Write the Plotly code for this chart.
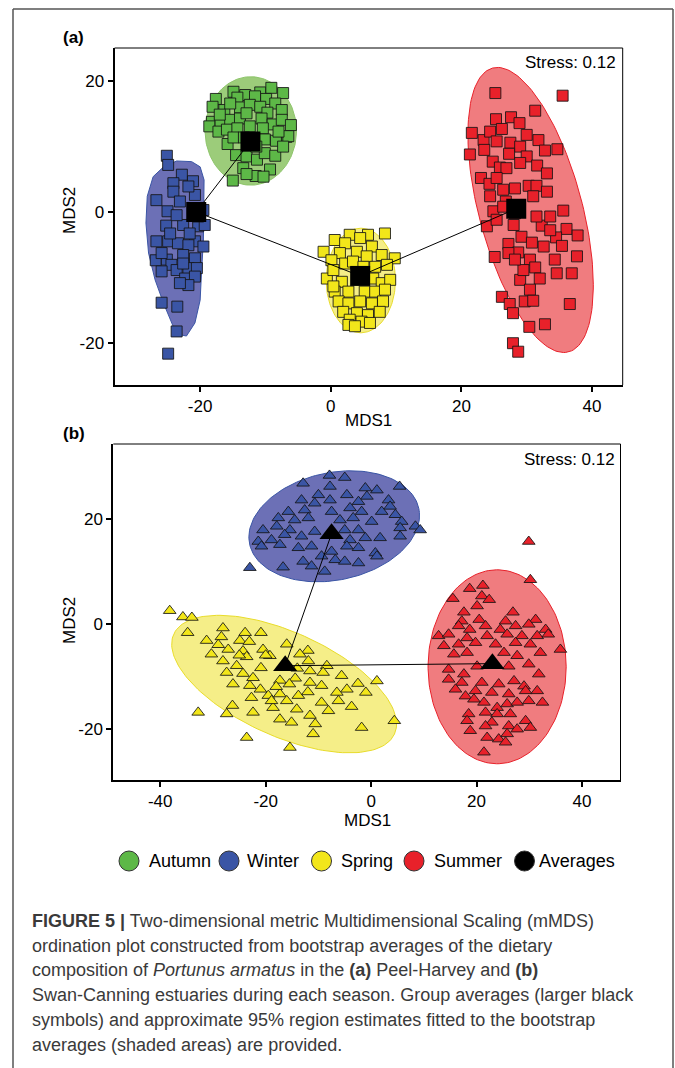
import numpy as np
import plotly.graph_objects as go

FONT = "Liberation Sans, Arial, sans-serif"

# ---------------- Panel (a): Peel-Harvey (squares) ----------------
a_autumn_x = [-14.9, -13.1, -10.8, -9.1, -7.3, -17.6, -14.3, -11.6, -9.9, -8.5, -16.3, -13.9, -12.4, -10.8,
              -9.7, -7.5, -15.4, -18.2, -16.9, -15.4, -13.9, -10.6, -8.9, -7.5, -6.1, -18.6, -17.2, -15.9,
              -14.3, -12.4, -10.4, -6.8, -15.8, -14.9, -13.3, -10.1, -8.4, -6.5, -14.5, -12.9, -11.3, -10.1,
              -8.5, -7.3, -13.4, -11.5, -9.3, -10.3, -15.0, -12.9, -18.1, -17.0, -8.0, -11.4, -12.9]
a_autumn_y = [18.4, 17.9, 18.3, 19.0, 18.2, 17.3, 17.5, 17.7, 17.3, 16.6, 15.6, 16.0, 16.4, 16.1,
              15.2, 15.6, 16.6, 13.8, 13.7, 14.1, 14.3, 14.3, 13.4, 14.1, 13.3, 13.1, 12.3, 12.6,
              12.8, 13.1, 12.8, 11.5, 10.4, 11.4, 11.4, 11.1, 10.9, 11.6, 8.7, 8.5, 8.0, 9.0,
              8.6, 10.0, 6.7, 5.5, 6.5, 5.4, 4.8, 5.8, 16.1, 14.9, 12.3, 10.0, 15.1]

a_winter_x = [-25.1, -24.9, -22.8, -24.1, -21.1, -20.8, -26.7, -24.1, -25.0, -23.1, -19.5, -25.2, -22.6,
              -20.3, -19.3, -26.7, -24.9, -23.4, -20.8, -19.5, -21.8, -26.8, -25.1, -24.4, -22.6, -20.8,
              -25.9, -23.6, -21.8, -20.5, -22.3, -20.8, -21.8, -23.1, -25.9, -23.5, -23.6, -24.9, -21.8,
              -23.6, -21.6, -24.6, -20.3, -25.9, -22.6]
a_winter_y = [8.6, 7.2, 5.7, 4.4, 4.7, 2.6, 1.8, 3.1, 0.1, 1.6, 0.3, -2.1, -2.0,
              -2.2, -2.0, -4.5, -4.5, -4.8, -4.5, -5.3, -5.1, -7.4, -7.3, -8.1, -6.6, -7.1,
              -9.1, -8.9, -8.6, -8.6, -10.2, -9.9, -11.2, -10.9, -13.9, -14.5, -18.3, -21.7, 3.9,
              -0.5, -3.3, -3.3, -0.7, -6.3, -7.9]

a_spring_x = [0.6, 2.9, 5.7, 8.3, 4.5, 2.2, -1.1, 1.4, 4.0, 6.3, 7.8, 9.8, 0.1, 2.2, 5.5, 6.8, 8.6, 3.4,
              -0.6, 1.7, 6.5, 7.8, 9.1, 0.6, 2.7, 5.2, 6.8, 8.3, 1.2, 2.7, 4.5, 6.3, 8.0, 1.9, 4.0, 5.7,
              7.5, 2.9, 4.7, 2.7, 3.7, 6.0, 0.4, 5.0, 0.4]
a_spring_y = [-4.3, -3.5, -3.5, -3.3, -4.0, -4.8, -6.1, -6.3, -6.1, -5.3, -6.6, -7.1, -7.4, -7.9, -6.8, -8.4,
              -8.1, -7.6, -10.2, -10.7, -10.2, -10.9, -10.4, -12.2, -12.2, -12.2, -12.2, -11.9, -13.7, -14.0,
              -13.7, -14.0, -13.7, -15.3, -15.5, -15.8, -15.3, -16.5, -16.8, -17.3, -17.5, -17.0, -8.9, -8.4,
              -11.4]

a_summer_x = [25.2, 35.5, 31.3, 25.3, 27.6, 28.9, 21.6, 23.4, 24.4, 26.2, 30.0, 31.8, 21.3, 23.5, 25.4,
              27.5, 29.0, 32.8, 34.7, 24.8, 27.3, 30.0, 31.6, 33.1, 25.9, 26.9, 29.0, 23.0, 24.3, 25.4,
              26.4, 28.2, 30.3, 31.5, 33.1, 24.9, 26.8, 23.9, 25.4, 28.0, 29.2, 30.8, 32.3, 33.6, 35.6,
              36.1, 37.8, 34.5, 35.4, 25.1, 27.2, 28.7, 30.5, 27.2, 31.3, 34.3, 37.7, 34.6, 36.9, 32.0,
              29.0, 30.5, 26.2, 27.4, 29.7, 31.0, 27.9, 36.6, 30.4, 32.8, 27.9, 28.7, 26.4, 28.2, 31.0,
              31.5, 24.4, 33.6, 32.6, 29.5, 28.2]
a_summer_y = [18.2, 17.8, 15.5, 14.2, 14.5, 13.6, 12.1, 11.0, 12.3, 12.7, 11.8, 11.0, 8.8, 9.5, 10.8,
              10.6, 10.0, 9.4, 9.6, 7.7, 8.9, 8.5, 7.1, 5.9, 6.8, 6.7, 7.5, 5.2, 4.3, 5.2,
              3.4, 3.6, 4.0, 4.0, 3.1, 0.1, 1.6, -2.2, -1.2, -2.0, -3.8, -4.7, -2.1, -0.7, 0.2,
              -2.6, -3.6, -3.9, -5.2, -6.9, -4.9, -6.2, -7.3, -6.3, -8.5, -7.3, -6.8, -9.4, -9.4, -10.2,
              -10.4, -11.9, -13.0, -14.1, -13.7, -13.6, -15.5, -14.1, -17.6, -17.2, -20.1, -21.4, 0.8, -0.2, 2.4,
              -0.7, 2.4, -2.8, -5.3, -8.9, -7.3]

# group averages (a): Autumn, Winter, Spring, Summer
a_avg_x = [-12.3, -20.6, 4.5, 28.4]
a_avg_y = [10.8, 0.0, -9.8, 0.5]

# approximate 95% regions (a): centre x, centre y, semi-axis 1, semi-axis 2, angle (deg)
a_autumn_region = [-12.25, 12.4, 7.0, 8.3, 0]
a_spring_region = [4.6, -10.5, 5.3, 8.0, 0]
a_summer_region = [30.6, 0.3, 22.5, 7.9, 105]
a_winter_region_x = [-25.6, -23.6, -21.3, -20.0, -19.4, -19.4, -19.5, -19.8, -20.0, -20.8, -22.1, -23.1,
                     -24.1, -25.6, -26.9, -27.9, -28.3, -28.1, -27.2, -25.6]
a_winter_region_y = [6.9, 7.8, 7.7, 6.9, 4.9, 0.8, -4.3, -9.4, -13.5, -17.0, -19.0, -18.8,
                     -17.6, -14.0, -10.4, -6.3, -1.7, 2.4, 5.4, 6.9]

# ---------------- Panel (b): Swan-Canning (triangles) ----------------
b_winter_x = [-7.9, -5.0, -12.9, -7.8, 5.4, -10.0, -7.8, -4.6, -1.1, 1.1, -0.8, -13.2, -10.7, -2.4, 3.3,
              3.6, -4.0, -15.7, -12.6, -7.5, -1.8, 2.0, 4.6, -17.6, -14.5, -11.9, -5.9, -3.4, 0.1, 5.8,
              -20.5, -17.9, -15.4, -10.7, -5.0, -2.4, 5.5, 8.4, 9.3, -21.4, -18.9, -16.4, -13.2, -4.0,
              -1.1, 1.7, 5.5, -20.8, -17.3, -13.8, -11.3, -7.5, -4.6, -2.4, 0.8, -9.4, -6.8, -12.9,
              -11.3, -5.0, -2.4, -16.7, -8.8, -23.0, 1.1]
b_winter_y = [28.3, 27.9, 26.8, 26.2, 26.2, 24.6, 23.6, 24.6, 25.9, 25.5, 24.3, 23.6, 23.0, 23.3, 23.6,
              22.4, 22.1, 21.4, 21.7, 21.4, 21.4, 21.4, 20.8, 20.2, 19.8, 20.2, 19.8, 20.2, 19.5, 19.5,
              17.9, 18.6, 17.9, 17.6, 17.9, 17.9, 18.3, 18.6, 17.9, 15.7, 16.0, 17.0, 16.7, 16.0,
              16.4, 16.4, 16.7, 14.8, 15.1, 14.5, 14.8, 13.8, 14.8, 14.5, 13.5, 12.9, 12.2, 11.9,
              11.0, 11.9, 11.6, 10.8, 10.0, 10.7, 12.9]

b_spring_x = [-38.2, -35.7, -34.0, -34.8, -28.1, -23.9, -20.9, -31.2, -28.4, -24.9, -23.1, -16.0, -12.0,
              -30.3, -27.1, -24.3, -20.5, -19.2, -13.5, -28.1, -23.6, -25.5, -20.9, -11.9, -8.4, -27.4,
              -24.3, -22.4, -11.6, -9.1, -5.6, -26.2, -23.0, -17.3, -14.4, -11.6, -9.4, -4.6, -2.5, 1.1,
              -1.0, -19.5, -17.3, -13.8, -6.5, -22.7, -16.0, -9.4, -6.2, -3.7, -26.3, -22.4, -18.6, -14.1,
              -11.6, -8.1, -32.8, -27.4, -17.3, -15.1, -10.6, -1.8, 4.4, -23.6, -11.0, -15.4, -18.9,
              -20.0, -14.0, -18.0, -12.0, -21.0, -15.5, -25.0, -29.0]
b_spring_y = [2.5, 1.3, 1.2, -1.7, -0.8, -1.7, -1.7, -3.2, -2.5, -3.2, -3.4, -3.9, -5.1,
              -5.8, -4.9, -5.2, -4.9, -6.1, -5.8, -7.1, -6.3, -8.0, -8.4, -7.1, -8.0, -9.3,
              -9.5, -10.3, -9.0, -9.3, -9.9, -11.5, -11.8, -10.8, -10.4, -11.2, -11.8, -12.5, -11.4, -10.9,
              -13.1, -13.7, -13.4, -13.7, -13.1, -14.1, -14.7, -15.0, -14.7, -15.8, -15.6, -16.9, -16.0, -16.3,
              -17.5, -16.6, -16.9, -17.2, -18.2, -18.8, -19.1, -19.8, -18.5, -21.7, -21.0, -23.6, -14.7,
              -6.0, -8.5, -12.0, -13.0, -12.5, -11.5, -6.0, -4.0]

b_summer_x = [29.9, 30.2, 35.9, 18.7, 21.2, 15.5, 21.0, 22.4, 20.1, 17.6, 26.9, 17.2, 20.5, 25.5, 31.2,
              16.6, 18.7, 21.7, 24.5, 27.4, 29.9, 33.1, 12.8, 14.7, 18.2, 22.0, 25.8, 28.6, 31.5, 33.6,
              13.8, 16.6, 19.8, 23.6, 27.4, 30.2, 15.7, 18.2, 25.2, 27.7, 32.1, 14.7, 17.6, 20.1, 26.1,
              29.9, 31.8, 14.7, 17.2, 21.0, 24.2, 27.1, 29.0, 16.0, 19.8, 22.9, 26.1, 29.3, 31.5, 17.9,
              21.4, 25.8, 27.7, 29.9, 32.5, 19.5, 23.9, 18.5, 21.7, 23.9, 26.4, 18.2, 22.9, 29.3, 18.8,
              21.7, 26.1, 30.2, 27.7, 22.0, 24.2, 25.8, 21.4, 25.5]
b_summer_y = [15.7, 8.4, -4.9, 6.7, 7.3, 4.8, 5.3, 4.6, 3.4, 2.2, 2.2, 0.5, 0.8, 0.5, 0.8,
              -0.4, -1.1, -0.4, -1.1, -0.4, -0.1, -1.1, -2.3, -2.0, -2.7, -2.3, -2.0, -2.3, -2.3, -2.0,
              -4.2, -3.9, -3.6, -3.9, -3.6, -3.9, -5.8, -5.5, -5.5, -6.1, -5.5, -8.7, -9.6, -8.1, -8.1,
              -7.7, -9.6, -10.6, -11.2, -11.2, -11.5, -10.9, -11.9, -12.5, -12.8, -13.1, -13.4, -12.8, -12.8, -13.8,
              -15.0, -15.3, -15.0, -14.7, -15.0, -14.4, -16.0, -17.2, -16.9, -17.2, -17.2, -18.5, -18.8, -18.5, -20.4,
              -19.5, -19.5, -19.8, -20.1, -21.7, -22.0, -21.0, -24.5, -22.6]

# group averages (b): Winter, Spring, Summer
b_avg_x = [-7.5, -16.3, 23.0]
b_avg_y = [17.2, -8.0, -7.6]

b_winter_region = [-7.0, 18.6, 16.4, 10.25, 12]
b_spring_region = [-16.5, -11.5, 23.0, 9.9, -24.5]
b_summer_region = [23.9, -8.2, 13.1, 18.5, 0]

# tick labels (hyphen-minus as in the original)
a_xticks = [-20, 0, 20, 40]
b_xticks = [-40, -20, 0, 20, 40]
y_ticks = [-20, 0, 20]

# colours
C_AUT, C_WIN, C_SPR, C_SUM = "#5DB847", "#3A55A5", "#F2E61A", "#E8212A"
R_AUT, R_WIN, R_SPR, R_SUM = "#9CCC7A", "#6C70B6", "#F5EE88", "#F07C7F"
L_AUT, L_WIN, L_SPR, L_SUM = "#8DC46A", "#3A55A5", "#E8DC2A", "#E8212A"


def ellipse_xy(region, n=160):
    cx, cy, a, b, ang = region
    t = np.linspace(0, 2 * np.pi, n)
    th = np.deg2rad(ang)
    x = cx + a * np.cos(t) * np.cos(th) - b * np.sin(t) * np.sin(th)
    y = cy + a * np.cos(t) * np.sin(th) + b * np.sin(t) * np.cos(th)
    return x, y


fig = go.Figure()


def region_trace(x, y, fill, line, xa, ya):
    fig.add_trace(go.Scatter(x=list(x), y=list(y), mode="lines", fill="toself", fillcolor=fill,
                             line=dict(color=line, width=1), hoverinfo="skip", showlegend=False,
                             xaxis=xa, yaxis=ya))


def pts_trace(x, y, color, symbol, size, xa, ya):
    fig.add_trace(go.Scatter(x=x, y=y, mode="markers", showlegend=False, xaxis=xa, yaxis=ya,
                             marker=dict(symbol=symbol, size=size, color=color,
                                         line=dict(color="rgba(20,20,20,0.85)", width=1))))


# ---- panel (a)
region_trace(*ellipse_xy(a_autumn_region), R_AUT, L_AUT, "x", "y")
region_trace(a_winter_region_x, a_winter_region_y, R_WIN, L_WIN, "x", "y")
region_trace(*ellipse_xy(a_spring_region), R_SPR, L_SPR, "x", "y")
region_trace(*ellipse_xy(a_summer_region), R_SUM, L_SUM, "x", "y")
pts_trace(a_autumn_x, a_autumn_y, C_AUT, "square", 11, "x", "y")
pts_trace(a_winter_x, a_winter_y, C_WIN, "square", 11, "x", "y")
pts_trace(a_spring_x, a_spring_y, C_SPR, "square", 11, "x", "y")
pts_trace(a_summer_x, a_summer_y, C_SUM, "square", 11, "x", "y")
fig.add_trace(go.Scatter(x=a_avg_x, y=a_avg_y, mode="lines", line=dict(color="black", width=1),
                         showlegend=False, xaxis="x", yaxis="y", hoverinfo="skip"))
fig.add_trace(go.Scatter(x=a_avg_x, y=a_avg_y, mode="markers", showlegend=False, xaxis="x", yaxis="y",
                         marker=dict(symbol="square", size=20, color="black", line=dict(width=0))))

# ---- panel (b)
region_trace(*ellipse_xy(b_winter_region), R_WIN, L_WIN, "x2", "y2")
region_trace(*ellipse_xy(b_spring_region), R_SPR, L_SPR, "x2", "y2")
region_trace(*ellipse_xy(b_summer_region), R_SUM, L_SUM, "x2", "y2")
pts_trace(b_winter_x, b_winter_y, C_WIN, "triangle-up", 11, "x2", "y2")
pts_trace(b_spring_x, b_spring_y, C_SPR, "triangle-up", 11, "x2", "y2")
pts_trace(b_summer_x, b_summer_y, C_SUM, "triangle-up", 11, "x2", "y2")
fig.add_trace(go.Scatter(x=b_avg_x, y=b_avg_y, mode="lines", line=dict(color="black", width=1),
                         showlegend=False, xaxis="x2", yaxis="y2", hoverinfo="skip"))
fig.add_trace(go.Scatter(x=b_avg_x, y=b_avg_y, mode="markers", showlegend=False, xaxis="x2", yaxis="y2",
                         marker=dict(symbol="triangle-up", size=21, color="black", line=dict(width=0))))

W, H = 675, 1068


def px(x):
    return x / W


def py(y):
    return 1 - y / H


def lab(v):
    return [str(t) for t in v]


axis_common = dict(showgrid=False, zeroline=False, showline=True, linewidth=2, linecolor="black",
                   ticks="outside", ticklen=5, tickwidth=1.5, tickcolor="black",
                   tickfont=dict(family=FONT, size=17, color="black"))

fig.update_layout(
    width=W, height=H, margin=dict(l=0, r=0, t=0, b=0),
    paper_bgcolor="white", plot_bgcolor="white", showlegend=False,
    xaxis=dict(domain=[px(114.6), px(622.7)], range=[-33.1, 44.7], tickvals=a_xticks, ticktext=lab(a_xticks),
               anchor="y", **axis_common),
    yaxis=dict(domain=[py(385), py(48)], range=[-26.5, 25.1], tickvals=y_ticks, ticktext=lab(y_ticks),
               anchor="x", **axis_common),
    xaxis2=dict(domain=[px(113.3), px(620.5)], range=[-48.9, 47.3], tickvals=b_xticks, ticktext=lab(b_xticks),
                anchor="y2", **axis_common),
    yaxis2=dict(domain=[py(780), py(444)], range=[-29.8, 34.3], tickvals=y_ticks, ticktext=lab(y_ticks),
                anchor="x2", **axis_common),
)

shapes = []
# thin top/right border of each plot box
for xr, yr in (("x", "y"), ("x2", "y2")):
    shapes.append(dict(type="line", xref=f"{xr} domain", yref=f"{yr} domain", x0=0, x1=1, y0=1, y1=1,
                       line=dict(color="black", width=1)))
    shapes.append(dict(type="line", xref=f"{xr} domain", yref=f"{yr} domain", x0=1, x1=1, y0=0, y1=1,
                       line=dict(color="black", width=1)))
# outer figure frame
FR = "#555555"
shapes.append(dict(type="line", xref="paper", yref="paper", x0=px(13), x1=px(673), y0=py(9), y1=py(9),
                   line=dict(color=FR, width=1.5)))
shapes.append(dict(type="line", xref="paper", yref="paper", x0=px(13), x1=px(13), y0=py(9), y1=0,
                   line=dict(color=FR, width=1.5)))
shapes.append(dict(type="line", xref="paper", yref="paper", x0=px(673), x1=px(673), y0=py(9), y1=0,
                   line=dict(color=FR, width=1.5)))

# custom legend
legend_names = ["Autumn", "Winter", "Spring", "Summer", "Averages"]
legend_colors = [C_AUT, C_WIN, C_SPR, C_SUM, "#000000"]
legend_cx = [129, 229, 321.5, 414, 524.5]
legend_tx = [147, 245, 339, 432, 537]
LY = 861
annotations = []
for name, col, cx, tx in zip(legend_names, legend_colors, legend_cx, legend_tx):
    shapes.append(dict(type="circle", xref="paper", yref="paper", x0=px(cx - 10), x1=px(cx + 10),
                       y0=py(LY + 10), y1=py(LY - 10), fillcolor=col, line=dict(color="#333333", width=1)))
    annotations.append(dict(text=name, xref="paper", yref="paper", x=px(tx), y=py(LY), xanchor="left",
                            yanchor="middle", showarrow=False, font=dict(family=FONT, size=18, color="black")))

fig.update_layout(shapes=shapes)

T = dict(family=FONT, size=17, color="black")
annotations += [
    dict(text="<b>(a)</b>", x=px(61), y=py(37), xanchor="left", yanchor="middle", font=T),
    dict(text="<b>(b)</b>", x=px(61), y=py(433), xanchor="left", yanchor="middle", font=T),
    dict(text="Stress: 0.12", x=px(618), y=py(62), xanchor="right", yanchor="middle", font=T),
    dict(text="Stress: 0.12", x=px(617), y=py(459), xanchor="right", yanchor="middle", font=T),
    dict(text="MDS1", x=px(368), y=py(420), xanchor="center", yanchor="middle", font=T),
    dict(text="MDS1", x=px(367), y=py(820), xanchor="center", yanchor="middle", font=T),
    dict(text="MDS2", x=px(70), y=py(211), xanchor="center", yanchor="middle", textangle=-90, font=T),
    dict(text="MDS2", x=px(69), y=py(621), xanchor="center", yanchor="middle", textangle=-90, font=T),
]

caption = [
    "<b>FIGURE 5 |</b> Two-dimensional metric Multidimensional Scaling (mMDS)",
    "ordination plot constructed from bootstrap averages of the dietary",
    "composition of <i>Portunus armatus</i> in the <b>(a)</b> Peel-Harvey and <b>(b)</b>",
    "Swan-Canning estuaries during each season. Group averages (larger black",
    "symbols) and approximate 95% region estimates fitted to the bootstrap",
    "averages (shaded areas) are provided.",
]
cap_y = [921, 945.5, 970, 995, 1020, 1045]
for line, yy in zip(caption, cap_y):
    annotations.append(dict(text=line, x=px(30), y=py(yy), xanchor="left", yanchor="middle",
                            font=dict(family=FONT, size=18, color="#3a3a3a")))

for an in annotations:
    an.setdefault("xref", "paper")
    an.setdefault("yref", "paper")
    an["showarrow"] = False
fig.update_layout(annotations=annotations)

fig.write_html("out.html", config={"displayModeBar": False},
               post_script="document.body.style.margin='0px';")
